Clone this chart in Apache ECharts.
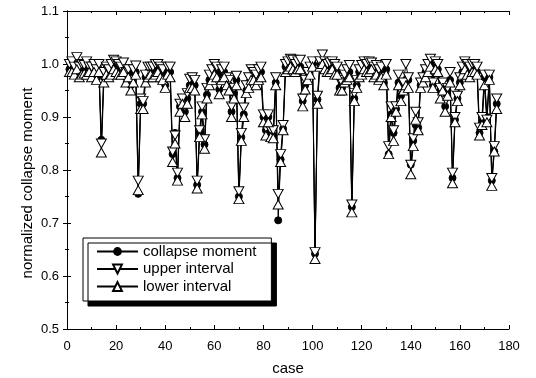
<!DOCTYPE html>
<html><head><meta charset="utf-8">
<script src="https://cdn.jsdelivr.net/npm/echarts@6/dist/echarts.min.js"></script>
<style>html,body{margin:0;padding:0;background:#fff}#c{width:536px;height:378px}</style>
</head><body><div id="c"></div>
<script>
const collapseMoment = [0.99,0.995,0.99,0.995,0.985,0.99,0.99,
0.985,0.995,0.985,0.99,0.98,0.99,0.857,0.975,0.99,0.985,0.995,1.0,0.995,0.99,0.99,0.995,0.975,0.985,0.96,0.98,0.985,0.755,0.925,0.925,0.975,0.985,0.99,0.985,0.99,0.995,0.985,0.98,0.96,0.99,0.985,0.83,0.87,0.785,0.92,0.915,0.91,0.935,
0.96,0.965,0.96,0.772,0.87,0.91,0.848,0.942,0.97,0.98,0.99,0.985,0.952,0.98,0.985,0.97,0.96,0.91,0.945,0.97,0.75,0.862,0.905,0.95,0.965,0.975,0.98,0.975,0.98,
0.985,0.9,0.875,0.9,0.87,0.865,0.965,0.705,0.82,0.878,0.995,1.0,1.0,1.0,0.995,1.0,0.995,0.93,0.96,0.975,0.99,1.0,0.642,0.933,1.0,1.005,0.995,0.99,0.995,1.0,0.99,0.985,0.955,0.955,0.97,0.98,0.985,0.73,0.935,0.96,0.985,0.99,1.0,0.995,0.995,1.0,0.985,0.99,
0.98,0.985,0.965,0.99,0.83,0.905,0.87,0.915,0.965,0.94,0.955,0.97,0.97,0.81,0.855,0.885,0.88,0.96,0.97,0.985,0.99,1.0,0.96,0.995,0.99,0.95,0.955,0.92,0.95,0.97,0.785,0.895,0.935,0.965,0.985,0.995,0.99,0.985,0.99,
0.99,0.985,0.87,0.89,0.975,0.9,0.975,0.78,0.835,0.925];
const upperInterval = [1.0,1.005,0.995,1.013,0.995,1.0,0.998,
1.005,0.995,0.995,1.0,0.99,1.0,0.85,0.985,0.995,0.99,1.0,1.008,1.005,1.0,0.995,1.003,0.985,0.99,0.97,0.99,0.997,0.78,0.935,0.93,0.98,0.995,0.995,0.995,1.0,1.0,0.995,0.99,0.97,0.995,0.995,0.835,0.865,0.795,0.925,0.935,0.92,0.945,
0.972,0.975,0.97,0.78,0.875,0.92,0.858,0.955,0.98,0.99,1.0,0.995,0.96,0.99,0.995,0.975,0.97,0.92,0.955,0.978,0.76,0.87,0.918,0.96,0.975,0.99,0.985,0.98,0.99,
0.995,0.905,0.88,0.905,0.875,0.875,0.975,0.755,0.83,0.885,1.0,1.005,1.01,1.008,1.0,1.005,1.008,0.935,0.97,0.985,0.995,1.005,0.645,0.94,1.005,1.018,1.005,1.0,1.003,1.005,1.0,0.995,0.97,0.965,0.98,0.99,0.998,0.735,0.945,0.97,0.99,0.998,1.005,1.0,1.005,1.003,0.995,0.998,
0.99,0.995,0.975,1.0,0.845,0.92,0.875,0.92,0.98,0.95,0.965,1.0,0.975,0.81,0.86,0.91,0.89,0.965,0.975,0.99,1.0,1.01,0.965,1.005,1.0,0.955,0.965,0.93,0.955,0.985,0.795,0.9,0.94,0.975,0.995,1.005,1.0,0.995,1.0,
1.0,0.995,0.88,0.9,0.98,0.895,0.98,0.785,0.845,0.935];
const lowerInterval = [0.985,0.985,0.98,0.99,0.975,0.98,0.982,
0.98,0.985,0.975,0.985,0.97,0.985,0.833,0.965,0.98,0.975,0.98,0.99,0.985,0.98,0.98,0.985,0.965,0.975,0.95,0.965,0.98,0.762,0.915,0.915,0.965,0.975,0.98,0.975,0.98,0.985,0.975,0.97,0.955,0.98,0.975,0.815,0.85,0.78,0.91,0.925,0.9,0.925,
0.955,0.955,0.95,0.765,0.862,0.905,0.84,0.935,0.96,0.97,0.98,0.975,0.943,0.97,0.975,0.96,0.95,0.9,0.935,0.96,0.745,0.855,0.9,0.945,0.955,0.97,0.97,0.96,0.97,
0.975,0.89,0.865,0.89,0.862,0.86,0.96,0.735,0.815,0.875,0.985,0.99,0.995,0.99,0.985,0.99,0.99,0.92,0.952,0.97,0.98,0.995,0.632,0.925,0.995,1.0,0.99,0.985,0.985,0.99,0.98,0.98,0.95,0.95,0.965,0.97,0.975,0.72,0.93,0.955,0.975,0.98,0.99,0.985,0.985,0.99,0.975,0.98,
0.97,0.975,0.96,0.98,0.83,0.9,0.855,0.91,0.96,0.93,0.95,0.96,0.955,0.792,0.845,0.895,0.875,0.955,0.965,0.975,0.985,0.995,0.955,0.99,0.985,0.935,0.95,0.91,0.94,0.965,0.775,0.89,0.93,0.96,0.98,0.99,0.98,0.975,0.985,
0.985,0.98,0.865,0.885,0.96,0.89,0.97,0.77,0.835,0.915];
const xTicks = [0,20,40,60,80,100,120,140,160,180];
const yTicks = [0.5,0.6,0.7,0.8,0.9,1.0,1.1];
const seriesNames = ['collapse moment','upper interval','lower interval'];
const xTitle = 'case';
const yTitle = 'normalized collapse moment';

const cases = collapseMoment.map((_, i) => i + 1);
const pairs = arr => arr.map((v, i) => [cases[i], v]);
const FONT = '"Liberation Sans", Arial, sans-serif';
const downTri = 'path://M0,0 L10,0 L5,9 Z';
const upTri = 'path://M5,0 L10,9 L0,9 Z';

const axisCommon = {
  axisLine: {show: true, lineStyle: {color: '#000', width: 1}},
  axisTick: {show: true, inside: true, length: 4, lineStyle: {color: '#000'}},
  minorTick: {show: true, splitNumber: 2, length: 2, lineStyle: {color: '#000'}},
  splitLine: {show: false}
};

const chart = echarts.init(document.getElementById('c'), null, {renderer: 'canvas'});
chart.setOption({
  animation: false,
  backgroundColor: '#fff',
  grid: {left: 67, right: 27, top: 11, bottom: 49, containLabel: false, outerBoundsMode: 'none'},
  legend: {
    left: 83, top: 238, orient: 'vertical',
    data: seriesNames,
    backgroundColor: '#fff', borderColor: '#000', borderWidth: 1,
    shadowColor: '#000', shadowBlur: 0, shadowOffsetX: 5, shadowOffsetY: 5,
    padding: [6, 15, 7, 13], itemGap: 2.5, itemWidth: 41, itemHeight: 11,
    textStyle: {fontFamily: FONT, fontSize: 15, color: '#000'}
  },
  graphic: [{
    type: 'text', x: 28, y: 183, rotation: Math.PI / 2,
    style: {text: yTitle, fill: '#000', font: '15px ' + FONT, align: 'center', verticalAlign: 'middle'}
  }],
  xAxis: [
    Object.assign({type: 'value', min: xTicks[0], max: xTicks[xTicks.length-1], interval: 20, name: xTitle,
      nameLocation: 'middle', nameGap: 32,
      nameTextStyle: {fontFamily: FONT, fontSize: 15, color: '#000'},
      axisLabel: {fontFamily: FONT, fontSize: 13, color: '#000', margin: 11}}, axisCommon),
    Object.assign({type: 'value', position: 'top', min: 0, max: 180, interval: 20, axisLabel: {show: false}}, axisCommon)
  ],
  yAxis: [
    Object.assign({type: 'value', min: yTicks[0], max: yTicks[yTicks.length-1], interval: 0.1,
      axisLabel: {fontFamily: FONT, fontSize: 13, color: '#000', margin: 8, formatter: v => v.toFixed(1)}}, axisCommon),
    Object.assign({type: 'value', position: 'right', min: 0.5, max: 1.1, interval: 0.1, axisLabel: {show: false}}, axisCommon)
  ],
  series: [
    {name: seriesNames[0], type: 'line', data: pairs(collapseMoment), symbol: 'circle', symbolSize: 7,
     itemStyle: {color: '#000', borderColor: '#000'}, lineStyle: {color: '#000', width: 1}},
    {name: seriesNames[1], type: 'line', data: pairs(upperInterval), symbol: downTri, symbolSize: [10, 9],
     itemStyle: {color: '#fff', borderColor: '#000', borderWidth: 1}, lineStyle: {color: '#000', width: 1}},
    {name: seriesNames[2], type: 'line', data: pairs(lowerInterval), symbol: upTri, symbolSize: [10, 9],
     itemStyle: {color: '#fff', borderColor: '#000', borderWidth: 1}, lineStyle: {color: '#000', width: 1}}
  ]
});
</script></body></html>
